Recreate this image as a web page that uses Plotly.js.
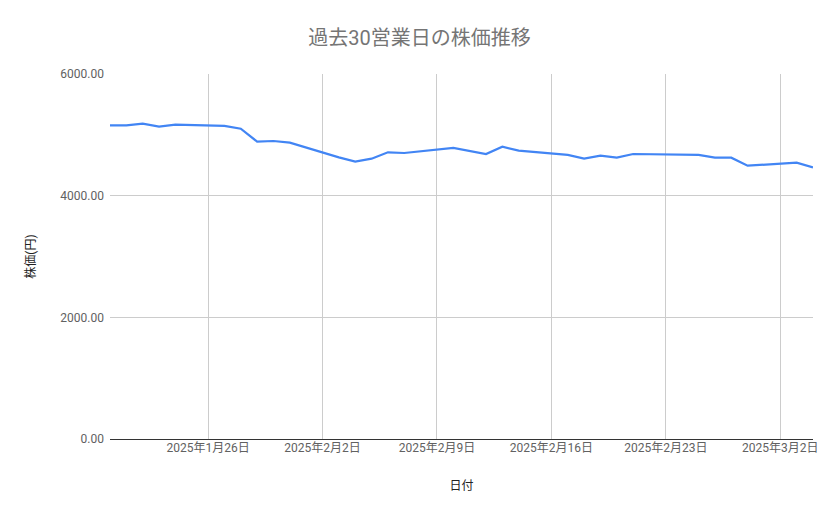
<!DOCTYPE html>
<html>
<head>
<meta charset="utf-8">
<script src="https://cdn.plot.ly/plotly-3.0.1.min.js"></script>
<style>
  html, body { margin: 0; padding: 0; background: #fff; }
  #chart { width: 839px; height: 519px; }
</style>
</head>
<body>
<div id="chart"></div>
<script>
var tradeDates = [
  '2025-01-20', '2025-01-21', '2025-01-22', '2025-01-23', '2025-01-24',
  '2025-01-27', '2025-01-28', '2025-01-29', '2025-01-30', '2025-01-31',
  '2025-02-03', '2025-02-04', '2025-02-05', '2025-02-06', '2025-02-07',
  '2025-02-10', '2025-02-12', '2025-02-13', '2025-02-14',
  '2025-02-17', '2025-02-18', '2025-02-19', '2025-02-20', '2025-02-21',
  '2025-02-25', '2025-02-26', '2025-02-27', '2025-02-28',
  '2025-03-03', '2025-03-04'
];
var closePrices = [
  5157, 5157, 5184, 5134, 5167,
  5148, 5101, 4888, 4899, 4871,
  4630, 4559, 4608, 4713, 4701,
  4784, 4685, 4805, 4740,
  4670, 4608, 4657, 4625, 4685,
  4669, 4625, 4625, 4493,
  4543, 4466
];
var weekTicks = ['2025-01-26', '2025-02-02', '2025-02-09', '2025-02-16', '2025-02-23', '2025-03-02'];
var weekLabels = ['2025年1月26日', '2025年2月2日', '2025年2月9日', '2025年2月16日', '2025年2月23日', '2025年3月2日'];

var fontFamily = 'Roboto, "Noto Sans CJK JP", sans-serif';

var trace = {
  x: tradeDates,
  y: closePrices,
  type: 'scatter',
  mode: 'lines',
  line: { color: '#4285f4', width: 2.2 },
  hoverinfo: 'x+y'
};

var layout = {
  width: 839,
  height: 519,
  margin: { l: 110, r: 26, t: 74, b: 80, pad: 0 },
  paper_bgcolor: '#fff',
  plot_bgcolor: '#fff',
  showlegend: false,
  font: { family: fontFamily, color: '#616161', size: 12 },
  title: {
    text: '過去30営業日の株価推移',
    x: 0.5,
    xanchor: 'center',
    y: 0.927,
    yanchor: 'middle',
    font: { family: fontFamily, size: 20, color: '#757575' }
  },
  xaxis: {
    type: 'date',
    range: ['2025-01-20', '2025-03-04'],
    tickmode: 'array',
    tickvals: weekTicks,
    ticktext: weekLabels,
    showgrid: true,
    gridcolor: '#cccccc',
    gridwidth: 1,
    zeroline: false,
    showline: false,
    ticks: '',
    tickfont: { family: fontFamily, size: 12, color: '#616161' },
    title: {
      text: '日付',
      standoff: 27,
      font: { family: fontFamily, size: 12, color: '#222222' }
    }
  },
  yaxis: {
    range: [0, 6000],
    tickmode: 'linear',
    tick0: 0,
    dtick: 2000,
    tickformat: '.2f',
    showgrid: true,
    gridcolor: '#cccccc',
    gridwidth: 1,
    zeroline: true,
    zerolinecolor: '#333333',
    zerolinewidth: 1,
    showline: false,
    ticks: '',
    ticklabelstandoff: 5,
    tickfont: { family: fontFamily, size: 12, color: '#616161' },
    title: {
      text: '株価(円)',
      standoff: 22,
      font: { family: fontFamily, size: 12, color: '#222222' }
    }
  }
};

Plotly.newPlot('chart', [trace], layout, { displayModeBar: false, staticPlot: true });
</script>
</body>
</html>
